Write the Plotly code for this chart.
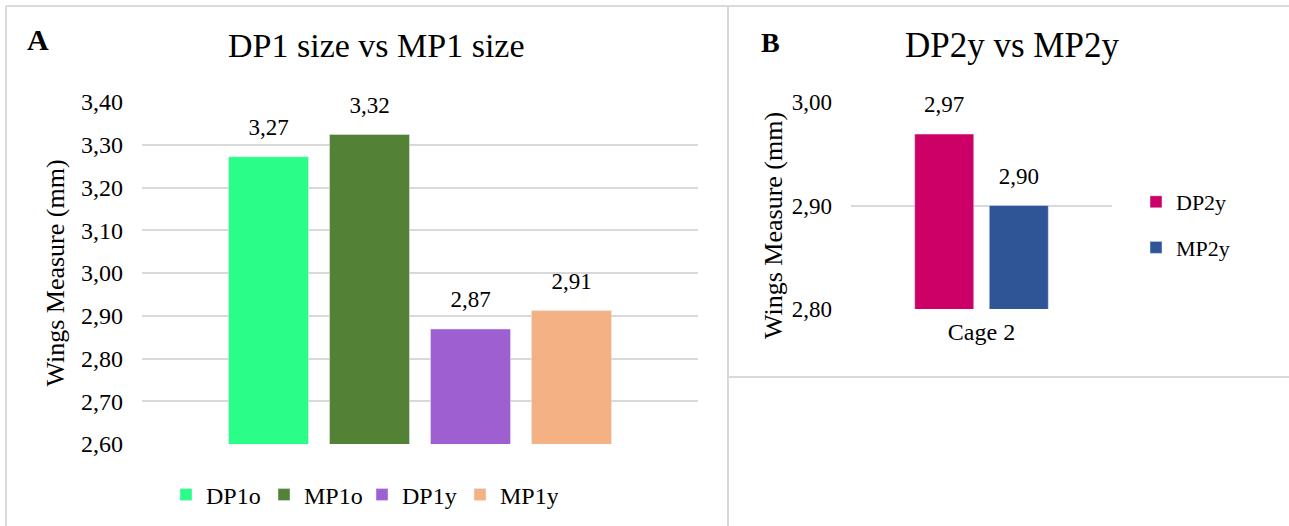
import plotly.graph_objects as go

# ---- data ----
cat_a = ["Cage 1"]
series_a = ["DP1o", "MP1o", "DP1y", "MP1y"]
values_a = [3.272, 3.324, 2.869, 2.912]
colors_a = ["#2BFD89", "#538135", "#9E5FD0", "#F4B183"]

cat_b = ["Cage 2"]
series_b = ["DP2y", "MP2y"]
values_b = [2.969, 2.900]
colors_b = ["#CC0066", "#2F5597"]

title_a = "DP1 size vs MP1 size"
title_b = "DP2y vs MP2y"
ytitle = "Wings Measure (mm)"

W, H = 1289, 526
FONT = "Liberation Serif"
GRID = "#D9D9D9"

def px(x):
    return x / W

def py(y):
    return 1 - y / H

fig = go.Figure()

for name, v, c in zip(series_a, values_a, colors_a):
    fig.add_trace(go.Bar(x=cat_a, y=[v], name=name, marker_color=c,
                         offsetgroup=name, xaxis="x", yaxis="y", legend="legend",
                         hoverinfo="skip"))
for name, v, c in zip(series_a, values_a, colors_a):
    fig.add_trace(go.Scatter(x=cat_a, y=[v], mode="markers+text", text=[f"{v:.2f}".replace(".", ",")],
                             textposition="top center", marker=dict(size=24, opacity=0),
                             textfont=dict(size=23, color="black", family=FONT),
                             offsetgroup=name, showlegend=False, xaxis="x", yaxis="y",
                             cliponaxis=False, hoverinfo="skip"))

for name, v, c in zip(series_b, values_b, colors_b):
    fig.add_trace(go.Bar(x=cat_b, y=[v], name=name, marker_color=c,
                         offsetgroup=name, xaxis="x2", yaxis="y2", legend="legend2",
                         legendgroup=name, hoverinfo="skip"))
for name, v, c in zip(series_b, values_b, colors_b):
    fig.add_trace(go.Scatter(x=cat_b, y=[v], mode="markers+text", text=[f"{v:.2f}".replace(".", ",")],
                             textposition="top center", marker=dict(size=24, opacity=0),
                             textfont=dict(size=23, color="black", family=FONT),
                             offsetgroup=name, showlegend=False, xaxis="x2", yaxis="y2",
                             cliponaxis=False, hoverinfo="skip"))

frame = dict(type="line", xref="paper", yref="paper", line=dict(color=GRID, width=2))
shapes = [
    dict(frame, x0=px(6), x1=1, y0=py(6), y1=py(6)),
    dict(frame, x0=px(6), x1=px(6), y0=py(6), y1=0),
    dict(frame, x0=px(728), x1=px(728), y0=py(6), y1=0),
    dict(frame, x0=px(728), x1=1, y0=py(377), y1=py(377)),
]

annotations = [
    dict(text=title_a, x=px(377), y=py(45), xref="paper", yref="paper", showarrow=False,
         xanchor="center", yanchor="middle", font=dict(size=34, family=FONT, color="black")),
    dict(text=title_b, x=px(1012), y=py(45), xref="paper", yref="paper", showarrow=False,
         xanchor="center", yanchor="middle", font=dict(size=35, family=FONT, color="black")),
    dict(text="<b>A</b>", x=px(38), y=py(39), xref="paper", yref="paper", showarrow=False,
         xanchor="center", yanchor="middle", font=dict(size=30, family=FONT, color="black")),
    dict(text="<b>B</b>", x=px(770), y=py(42), xref="paper", yref="paper", showarrow=False,
         xanchor="center", yanchor="middle", font=dict(size=28, family=FONT, color="black")),
    dict(text=ytitle, x=px(773), y=py(226), xref="paper", yref="paper", showarrow=False,
         textangle=-90, xanchor="center", yanchor="middle",
         font=dict(size=26, family=FONT, color="black")),
]

fig.update_layout(
    width=W, height=H, margin=dict(l=0, r=0, t=0, b=0, pad=0, autoexpand=False),
    paper_bgcolor="white", plot_bgcolor="white",
    font=dict(family=FONT, color="black"),
    separators=",.",
    barmode="group", bargap=0.2734, bargroupgap=0.208,
    scattermode="group", scattergap=0.2734,
    showlegend=True,
    xaxis=dict(domain=[px(142), px(698)], type="category", showticklabels=False, automargin=False,
               showgrid=False, zeroline=False, showline=False, ticks="", fixedrange=True),
    yaxis=dict(domain=[py(444), py(102)], range=[2.6, 3.4], dtick=0.1, tick0=2.6, automargin=False,
               tickformat=".2f", showgrid=True, gridcolor=GRID, gridwidth=2,
               zeroline=False, showline=False, ticks="", ticklabelstandoff=18,
               tickfont=dict(size=24, family=FONT, color="black"),
               title=dict(text=ytitle, font=dict(size=26, family=FONT, color="black"), standoff=8)),
    xaxis2=dict(domain=[px(851), px(1112)], type="category", range=[-0.636, 0.636], automargin=False,
                showgrid=False, zeroline=False, showline=False, ticks="", anchor="y2",
                ticklabelstandoff=6, tickfont=dict(size=24, family=FONT, color="black")),
    yaxis2=dict(domain=[py(309), py(102)], range=[2.8, 3.0], dtick=0.1, tick0=2.8, automargin=False,
                tickformat=".2f", showgrid=True, gridcolor=GRID, gridwidth=2,
                zeroline=False, showline=False, ticks="", anchor="x2", ticklabelstandoff=18,
                tickfont=dict(size=23, family=FONT, color="black")),
    legend=dict(orientation="h", x=px(362), xanchor="center", y=py(495), yanchor="middle",
                entrywidth=53, entrywidthmode="pixels",
                font=dict(size=24, family=FONT, color="black"), bgcolor="rgba(0,0,0,0)"),
    legend2=dict(orientation="v", x=px(1136), xanchor="left", y=py(225), yanchor="middle",
                 font=dict(size=22, family=FONT, color="black"), bgcolor="rgba(0,0,0,0)",
                 traceorder="grouped", tracegroupgap=14),
    shapes=shapes,
    annotations=annotations,
)

fig.write_html("out.html")
